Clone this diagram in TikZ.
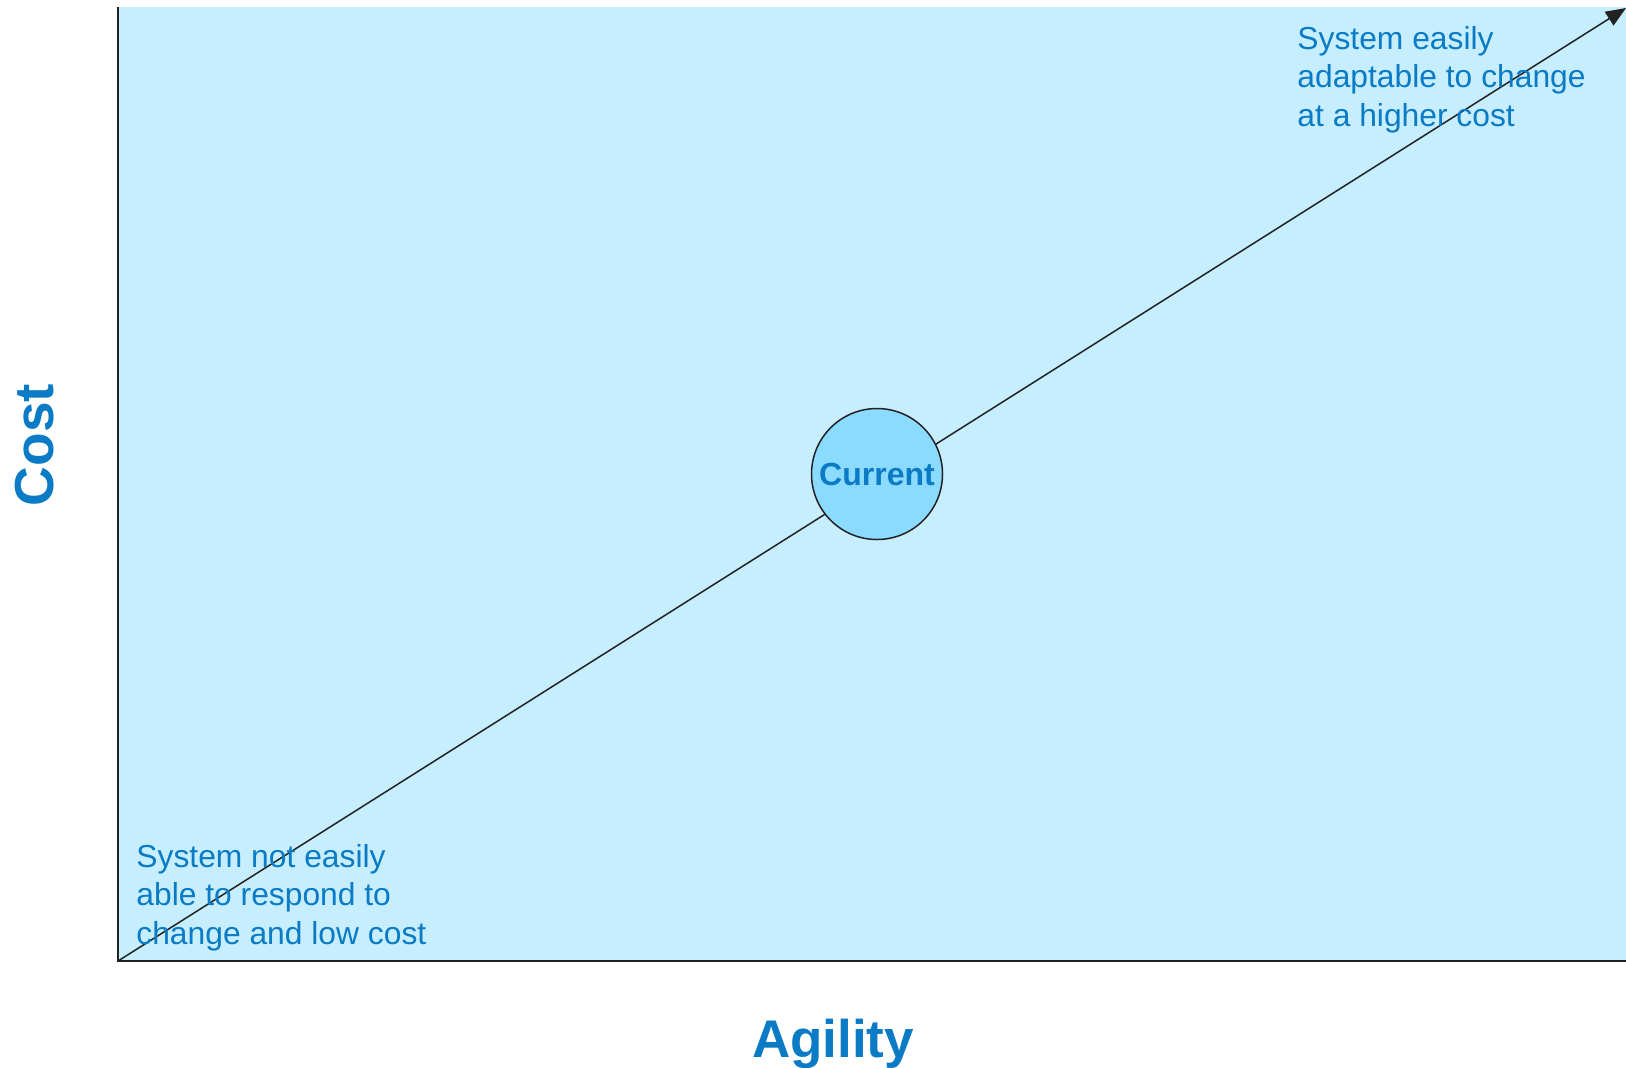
\documentclass[tikz,border=0pt]{standalone}
\usepackage{fontspec}
\setmainfont{Liberation Sans}
\usetikzlibrary{arrows.meta}
\definecolor{plotbg}{HTML}{C6EEFF}
\definecolor{bubble}{HTML}{8ADBFF}
\definecolor{inkblue}{HTML}{0A7BC4}
\definecolor{axisgray}{HTML}{222222}
\tikzset{
  note/.style={anchor=north west, inner sep=0pt, align=left, text=inkblue,
    font=\fontsize{15.9}{19.2}\selectfont},
  axislabel/.style={inner sep=0pt, text=inkblue, font=\bfseries\fontsize{26.5}{30}\selectfont},
  bubblenode/.style={circle, draw=axisgray, line width=0.75pt, fill=bubble,
    minimum size=65.5pt, inner sep=0pt, text=inkblue,
    font=\bfseries\fontsize{16}{18}\selectfont},
  axisline/.style={draw=axisgray, line width=1pt},
  trend/.style={draw=axisgray, line width=0.75pt, -{Triangle[length=10pt,width=8pt]}}
}
\begin{document}
\begin{tikzpicture}[x=0.5pt, y=-0.5pt]
  \useasboundingbox (0,0) rectangle (1626,1067);
  % plot area
  \fill[plotbg] (118,7) rectangle (1626,961);
  \coordinate (origin) at (118,961);
  \coordinate (ytop) at (118,7);
  \coordinate (xend) at (1626,961);
  \coordinate (tip) at (1626,8);
  \draw[axisline] (ytop) -- (origin) -- (xend);
  % cost/agility trend
  \draw[trend] (origin) -- (tip);
  \node[bubblenode] (cur) at (877,474) {Current};
  % annotations
  \node[note] (high) at (1297,26) {System easily\\adaptable to change\\at a higher cost};
  \node[note] (low) at (136,844) {System not easily\\able to respond to\\change and low cost};
  % axis titles
  \node[axislabel, anchor=base] (agility) at (833,1057) {Agility};
  \node[axislabel, anchor=base, rotate=90, font=\bfseries\fontsize{27.5}{30}\selectfont] (cost) at (53,445) {Cost};
\end{tikzpicture}
\end{document}
